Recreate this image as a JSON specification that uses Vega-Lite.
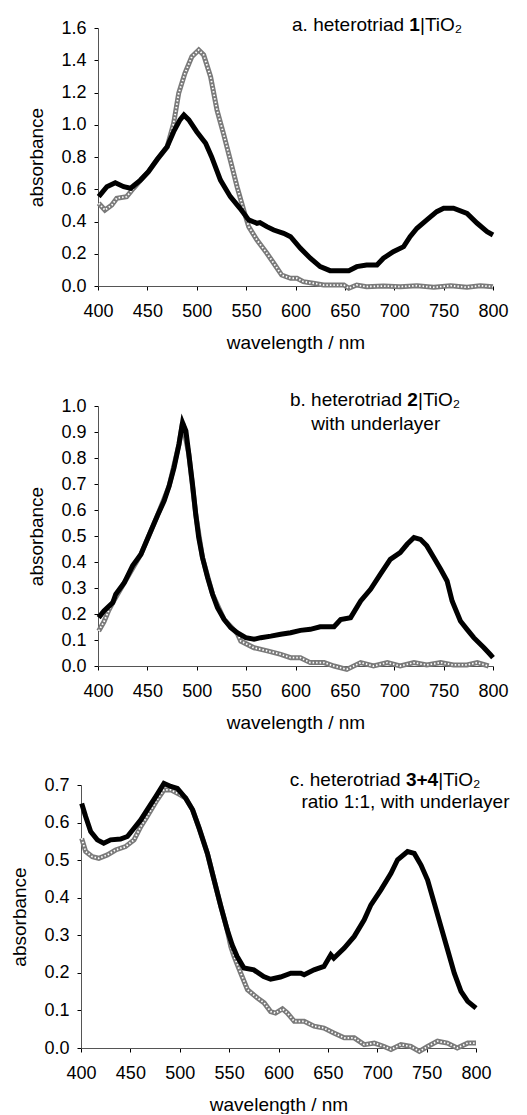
{
  "$schema": "https://vega.github.io/schema/vega-lite/v6.json",
  "padding": {"left": 10, "top": 16, "right": 0, "bottom": 0},
  "spacing": 39,
  "datasets": {
    "spectra": [
      {"p":"a","s":"black","w":400.7,"A":0.554},{"p":"a","s":"black","w":409,"A":0.616},{"p":"a","s":"black","w":417.5,"A":0.64},{"p":"a","s":"black","w":426,"A":0.616},{"p":"a","s":"black","w":433,"A":0.606},{"p":"a","s":"black","w":443,"A":0.657},{"p":"a","s":"black","w":451,"A":0.709},{"p":"a","s":"black","w":460,"A":0.786},{"p":"a","s":"black","w":470,"A":0.864},{"p":"a","s":"black","w":476.6,"A":0.957},{"p":"a","s":"black","w":483,"A":1.03},{"p":"a","s":"black","w":487,"A":1.06},{"p":"a","s":"black","w":492,"A":1.03},{"p":"a","s":"black","w":500,"A":0.957},{"p":"a","s":"black","w":509,"A":0.885},{"p":"a","s":"black","w":515,"A":0.802},{"p":"a","s":"black","w":524,"A":0.657},{"p":"a","s":"black","w":534,"A":0.554},{"p":"a","s":"black","w":544,"A":0.48},{"p":"a","s":"black","w":552.6,"A":0.41},{"p":"a","s":"black","w":561,"A":0.389},{"p":"a","s":"black","w":564,"A":0.393},{"p":"a","s":"black","w":571,"A":0.368},{"p":"a","s":"black","w":578,"A":0.347},{"p":"a","s":"black","w":588,"A":0.327},{"p":"a","s":"black","w":595,"A":0.306},{"p":"a","s":"black","w":605,"A":0.234},{"p":"a","s":"black","w":615,"A":0.172},{"p":"a","s":"black","w":625,"A":0.12},{"p":"a","s":"black","w":635,"A":0.095},{"p":"a","s":"black","w":645,"A":0.095},{"p":"a","s":"black","w":654,"A":0.095},{"p":"a","s":"black","w":662,"A":0.12},{"p":"a","s":"black","w":672,"A":0.13},{"p":"a","s":"black","w":682.5,"A":0.13},{"p":"a","s":"black","w":689,"A":0.172},{"p":"a","s":"black","w":699,"A":0.213},{"p":"a","s":"black","w":709.5,"A":0.244},{"p":"a","s":"black","w":716,"A":0.306},{"p":"a","s":"black","w":723,"A":0.358},{"p":"a","s":"black","w":733,"A":0.41},{"p":"a","s":"black","w":743,"A":0.461},{"p":"a","s":"black","w":750,"A":0.482},{"p":"a","s":"black","w":760,"A":0.482},{"p":"a","s":"black","w":773.7,"A":0.45},{"p":"a","s":"black","w":784,"A":0.389},{"p":"a","s":"black","w":794,"A":0.337},{"p":"a","s":"black","w":800,"A":0.316},
      {"p":"a","s":"grey","w":400.7,"A":0.513},{"p":"a","s":"grey","w":407,"A":0.471},{"p":"a","s":"grey","w":414,"A":0.502},{"p":"a","s":"grey","w":419,"A":0.544},{"p":"a","s":"grey","w":429,"A":0.554},{"p":"a","s":"grey","w":436,"A":0.606},{"p":"a","s":"grey","w":443,"A":0.655},{"p":"a","s":"grey","w":451,"A":0.707},{"p":"a","s":"grey","w":460,"A":0.784},{"p":"a","s":"grey","w":470,"A":0.862},{"p":"a","s":"grey","w":476.6,"A":1.009},{"p":"a","s":"grey","w":481.7,"A":1.195},{"p":"a","s":"grey","w":488,"A":1.319},{"p":"a","s":"grey","w":495,"A":1.422},{"p":"a","s":"grey","w":502,"A":1.464},{"p":"a","s":"grey","w":507,"A":1.433},{"p":"a","s":"grey","w":514,"A":1.298},{"p":"a","s":"grey","w":520.5,"A":1.091},{"p":"a","s":"grey","w":527,"A":0.947},{"p":"a","s":"grey","w":534,"A":0.781},{"p":"a","s":"grey","w":540.8,"A":0.616},{"p":"a","s":"grey","w":547.5,"A":0.471},{"p":"a","s":"grey","w":552.6,"A":0.368},{"p":"a","s":"grey","w":561,"A":0.285},{"p":"a","s":"grey","w":571,"A":0.203},{"p":"a","s":"grey","w":578,"A":0.141},{"p":"a","s":"grey","w":586,"A":0.068},{"p":"a","s":"grey","w":595,"A":0.048},{"p":"a","s":"grey","w":601.5,"A":0.048},{"p":"a","s":"grey","w":608,"A":0.027},{"p":"a","s":"grey","w":618,"A":0.017},{"p":"a","s":"grey","w":628.5,"A":0.006},{"p":"a","s":"grey","w":638.6,"A":0.006},{"p":"a","s":"grey","w":649,"A":0.006},{"p":"a","s":"grey","w":654,"A":-0.014},{"p":"a","s":"grey","w":662,"A":0.006},{"p":"a","s":"grey","w":672,"A":-0.004},{"p":"a","s":"grey","w":689,"A":0},{"p":"a","s":"grey","w":706,"A":-0.004},{"p":"a","s":"grey","w":723,"A":0.002},{"p":"a","s":"grey","w":740,"A":-0.008},{"p":"a","s":"grey","w":757,"A":0.002},{"p":"a","s":"grey","w":773.7,"A":-0.008},{"p":"a","s":"grey","w":787,"A":0.002},{"p":"a","s":"grey","w":800,"A":-0.004},
      {"p":"b","s":"black","w":400.7,"A":0.186},{"p":"b","s":"black","w":406,"A":0.212},{"p":"b","s":"black","w":415,"A":0.244},{"p":"b","s":"black","w":418,"A":0.276},{"p":"b","s":"black","w":426.6,"A":0.32},{"p":"b","s":"black","w":435,"A":0.385},{"p":"b","s":"black","w":443.5,"A":0.43},{"p":"b","s":"black","w":452,"A":0.506},{"p":"b","s":"black","w":460,"A":0.577},{"p":"b","s":"black","w":467,"A":0.635},{"p":"b","s":"black","w":472,"A":0.692},{"p":"b","s":"black","w":477,"A":0.763},{"p":"b","s":"black","w":482,"A":0.853},{"p":"b","s":"black","w":485.6,"A":0.936},{"p":"b","s":"black","w":489,"A":0.904},{"p":"b","s":"black","w":492,"A":0.814},{"p":"b","s":"black","w":495.7,"A":0.699},{"p":"b","s":"black","w":499,"A":0.583},{"p":"b","s":"black","w":502,"A":0.494},{"p":"b","s":"black","w":505.8,"A":0.417},{"p":"b","s":"black","w":511,"A":0.34},{"p":"b","s":"black","w":516,"A":0.276},{"p":"b","s":"black","w":521,"A":0.224},{"p":"b","s":"black","w":527.7,"A":0.179},{"p":"b","s":"black","w":534.5,"A":0.147},{"p":"b","s":"black","w":541,"A":0.128},{"p":"b","s":"black","w":549.6,"A":0.109},{"p":"b","s":"black","w":558,"A":0.103},{"p":"b","s":"black","w":564.8,"A":0.109},{"p":"b","s":"black","w":575,"A":0.115},{"p":"b","s":"black","w":585,"A":0.122},{"p":"b","s":"black","w":595,"A":0.128},{"p":"b","s":"black","w":605,"A":0.137},{"p":"b","s":"black","w":615,"A":0.141},{"p":"b","s":"black","w":625,"A":0.151},{"p":"b","s":"black","w":639,"A":0.151},{"p":"b","s":"black","w":645.7,"A":0.179},{"p":"b","s":"black","w":655.8,"A":0.186},{"p":"b","s":"black","w":666,"A":0.25},{"p":"b","s":"black","w":676,"A":0.295},{"p":"b","s":"black","w":686,"A":0.353},{"p":"b","s":"black","w":696,"A":0.41},{"p":"b","s":"black","w":706,"A":0.436},{"p":"b","s":"black","w":713,"A":0.468},{"p":"b","s":"black","w":720,"A":0.494},{"p":"b","s":"black","w":726.6,"A":0.487},{"p":"b","s":"black","w":733,"A":0.462},{"p":"b","s":"black","w":740,"A":0.417},{"p":"b","s":"black","w":747,"A":0.372},{"p":"b","s":"black","w":753.5,"A":0.327},{"p":"b","s":"black","w":758.6,"A":0.25},{"p":"b","s":"black","w":767,"A":0.173},{"p":"b","s":"black","w":773.7,"A":0.141},{"p":"b","s":"black","w":780.5,"A":0.109},{"p":"b","s":"black","w":790.6,"A":0.071},{"p":"b","s":"black","w":797,"A":0.045},{"p":"b","s":"black","w":800,"A":0.032},
      {"p":"b","s":"grey","w":400.7,"A":0.135},{"p":"b","s":"grey","w":406,"A":0.17},{"p":"b","s":"grey","w":411,"A":0.215},{"p":"b","s":"grey","w":415,"A":0.244},{"p":"b","s":"grey","w":426.6,"A":0.32},{"p":"b","s":"grey","w":443.5,"A":0.43},{"p":"b","s":"grey","w":460,"A":0.577},{"p":"b","s":"grey","w":472,"A":0.692},{"p":"b","s":"grey","w":482,"A":0.853},{"p":"b","s":"grey","w":485.6,"A":0.936},{"p":"b","s":"grey","w":492,"A":0.814},{"p":"b","s":"grey","w":499,"A":0.583},{"p":"b","s":"grey","w":505.8,"A":0.417},{"p":"b","s":"grey","w":516,"A":0.276},{"p":"b","s":"grey","w":527.7,"A":0.179},{"p":"b","s":"grey","w":541,"A":0.125},{"p":"b","s":"grey","w":544.6,"A":0.096},{"p":"b","s":"grey","w":558,"A":0.07},{"p":"b","s":"grey","w":571.5,"A":0.058},{"p":"b","s":"grey","w":585,"A":0.045},{"p":"b","s":"grey","w":595,"A":0.032},{"p":"b","s":"grey","w":605,"A":0.032},{"p":"b","s":"grey","w":615,"A":0.013},{"p":"b","s":"grey","w":629,"A":0.013},{"p":"b","s":"grey","w":639,"A":0},{"p":"b","s":"grey","w":652,"A":-0.013},{"p":"b","s":"grey","w":666,"A":0.013},{"p":"b","s":"grey","w":679,"A":0},{"p":"b","s":"grey","w":693,"A":0.013},{"p":"b","s":"grey","w":706,"A":0},{"p":"b","s":"grey","w":720,"A":0.013},{"p":"b","s":"grey","w":733,"A":0.004},{"p":"b","s":"grey","w":747,"A":0.013},{"p":"b","s":"grey","w":760,"A":0.004},{"p":"b","s":"grey","w":773.7,"A":0.004},{"p":"b","s":"grey","w":784,"A":0.013},{"p":"b","s":"grey","w":795.6,"A":0},
      {"p":"c","s":"black","w":400.7,"A":0.651},{"p":"c","s":"black","w":404.7,"A":0.616},{"p":"c","s":"black","w":409.8,"A":0.576},{"p":"c","s":"black","w":416.5,"A":0.554},{"p":"c","s":"black","w":423,"A":0.545},{"p":"c","s":"black","w":430,"A":0.554},{"p":"c","s":"black","w":440,"A":0.556},{"p":"c","s":"black","w":447,"A":0.563},{"p":"c","s":"black","w":453.7,"A":0.585},{"p":"c","s":"black","w":460.5,"A":0.607},{"p":"c","s":"black","w":467,"A":0.634},{"p":"c","s":"black","w":475.7,"A":0.669},{"p":"c","s":"black","w":484,"A":0.704},{"p":"c","s":"black","w":491,"A":0.696},{"p":"c","s":"black","w":497.6,"A":0.691},{"p":"c","s":"black","w":506,"A":0.665},{"p":"c","s":"black","w":513,"A":0.634},{"p":"c","s":"black","w":519.6,"A":0.585},{"p":"c","s":"black","w":528,"A":0.518},{"p":"c","s":"black","w":534.8,"A":0.447},{"p":"c","s":"black","w":541.6,"A":0.377},{"p":"c","s":"black","w":548,"A":0.315},{"p":"c","s":"black","w":553,"A":0.275},{"p":"c","s":"black","w":558,"A":0.244},{"p":"c","s":"black","w":565,"A":0.213},{"p":"c","s":"black","w":575,"A":0.208},{"p":"c","s":"black","w":585,"A":0.19},{"p":"c","s":"black","w":592,"A":0.183},{"p":"c","s":"black","w":602,"A":0.189},{"p":"c","s":"black","w":612.5,"A":0.199},{"p":"c","s":"black","w":622.6,"A":0.199},{"p":"c","s":"black","w":626,"A":0.195},{"p":"c","s":"black","w":636,"A":0.208},{"p":"c","s":"black","w":646,"A":0.217},{"p":"c","s":"black","w":653,"A":0.248},{"p":"c","s":"black","w":656,"A":0.239},{"p":"c","s":"black","w":666.6,"A":0.266},{"p":"c","s":"black","w":676.7,"A":0.297},{"p":"c","s":"black","w":686.8,"A":0.341},{"p":"c","s":"black","w":693.6,"A":0.381},{"p":"c","s":"black","w":703.7,"A":0.421},{"p":"c","s":"black","w":713.9,"A":0.465},{"p":"c","s":"black","w":720.6,"A":0.501},{"p":"c","s":"black","w":730.7,"A":0.523},{"p":"c","s":"black","w":737.5,"A":0.518},{"p":"c","s":"black","w":744.3,"A":0.487},{"p":"c","s":"black","w":751,"A":0.447},{"p":"c","s":"black","w":757.8,"A":0.385},{"p":"c","s":"black","w":764.5,"A":0.323},{"p":"c","s":"black","w":771.3,"A":0.261},{"p":"c","s":"black","w":778,"A":0.199},{"p":"c","s":"black","w":784.8,"A":0.151},{"p":"c","s":"black","w":791.6,"A":0.124},{"p":"c","s":"black","w":800,"A":0.106},
      {"p":"c","s":"grey","w":400.7,"A":0.558},{"p":"c","s":"grey","w":404.7,"A":0.523},{"p":"c","s":"grey","w":411.5,"A":0.509},{"p":"c","s":"grey","w":418,"A":0.505},{"p":"c","s":"grey","w":426.7,"A":0.514},{"p":"c","s":"grey","w":435,"A":0.527},{"p":"c","s":"grey","w":445,"A":0.536},{"p":"c","s":"grey","w":453.7,"A":0.554},{"p":"c","s":"grey","w":460.5,"A":0.589},{"p":"c","s":"grey","w":467,"A":0.616},{"p":"c","s":"grey","w":477,"A":0.66},{"p":"c","s":"grey","w":484,"A":0.687},{"p":"c","s":"grey","w":491,"A":0.687},{"p":"c","s":"grey","w":501,"A":0.673},{"p":"c","s":"grey","w":506,"A":0.665},{"p":"c","s":"grey","w":513,"A":0.634},{"p":"c","s":"grey","w":519.6,"A":0.585},{"p":"c","s":"grey","w":528,"A":0.518},{"p":"c","s":"grey","w":534.8,"A":0.447},{"p":"c","s":"grey","w":541.6,"A":0.377},{"p":"c","s":"grey","w":548,"A":0.315},{"p":"c","s":"grey","w":551.7,"A":0.27},{"p":"c","s":"grey","w":555,"A":0.244},{"p":"c","s":"grey","w":561.8,"A":0.199},{"p":"c","s":"grey","w":568.6,"A":0.155},{"p":"c","s":"grey","w":578.7,"A":0.133},{"p":"c","s":"grey","w":585.5,"A":0.12},{"p":"c","s":"grey","w":592,"A":0.097},{"p":"c","s":"grey","w":597,"A":0.093},{"p":"c","s":"grey","w":604,"A":0.104},{"p":"c","s":"grey","w":609,"A":0.093},{"p":"c","s":"grey","w":616,"A":0.071},{"p":"c","s":"grey","w":626,"A":0.071},{"p":"c","s":"grey","w":636,"A":0.058},{"p":"c","s":"grey","w":646,"A":0.053},{"p":"c","s":"grey","w":656,"A":0.04},{"p":"c","s":"grey","w":666.6,"A":0.027},{"p":"c","s":"grey","w":676.7,"A":0.027},{"p":"c","s":"grey","w":686.8,"A":0.009},{"p":"c","s":"grey","w":697,"A":0.013},{"p":"c","s":"grey","w":707,"A":0.004},{"p":"c","s":"grey","w":713.9,"A":-0.004},{"p":"c","s":"grey","w":724,"A":0.009},{"p":"c","s":"grey","w":734,"A":0.004},{"p":"c","s":"grey","w":742.6,"A":-0.009},{"p":"c","s":"grey","w":751,"A":0.004},{"p":"c","s":"grey","w":761,"A":0.018},{"p":"c","s":"grey","w":771,"A":0.013},{"p":"c","s":"grey","w":781,"A":0},{"p":"c","s":"grey","w":791.6,"A":0.013},{"p":"c","s":"grey","w":800,"A":0.013}
    ],
    "notes": [
      {"p":"a","w":709.9,"A":1.581,"pre":"a. heterotriad","bold":"1","post":"|TiO₂"},
      {"p":"b","w":707.8,"A":1.0,"pre":"b. heterotriad","bold":"2","post":"|TiO₂","w2":681.3,"A2":0.908,"line2":"with underlayer"},
      {"p":"c","w":723.7,"A":0.697,"pre":"c. heterotriad","bold":"3+4","post":"|TiO₂","w2":728.6,"A2":0.639,"line2":"ratio 1:1, with underlayer"}
    ]
  },
  "vconcat": [
    {
      "width": 412, "height": 258,
      "layer": [
        {"data": {"name": "spectra"}, "transform": [{"filter": "datum.p === 'a' && datum.s === 'grey'"}],
         "mark": {"type": "line", "color": "#7a7a7a", "strokeWidth": 5},
         "encoding": {
           "x": {"field": "w", "type": "quantitative", "scale": {"domain": [400, 800], "nice": false, "rangeMin": 17}, "axis": {"title": "wavelength / nm", "values": [400,450,500,550,600,650,700,750,800], "tickCount": 20, "labelOverlap": false}},
           "y": {"field": "A", "type": "quantitative", "scale": {"domain": [0, 1.6], "nice": false}, "axis": {"title": "absorbance", "offset": -17, "values": [0,0.2,0.4,0.6,0.8,1.0,1.2,1.4,1.6], "tickCount": 20, "format": ".1f", "labelOverlap": false}}
         }},
        {"data": {"name": "spectra"}, "transform": [{"filter": "datum.p === 'a' && datum.s === 'grey'"}],
         "mark": {"type": "line", "color": "white", "strokeWidth": 1.8, "strokeDash": [1.5, 2]},
         "encoding": {"x": {"field": "w", "type": "quantitative"}, "y": {"field": "A", "type": "quantitative"}}},
        {"data": {"name": "spectra"}, "transform": [{"filter": "datum.p === 'a' && datum.s === 'black'"}],
         "mark": {"type": "line", "color": "black", "strokeWidth": 5},
         "encoding": {"x": {"field": "w", "type": "quantitative"}, "y": {"field": "A", "type": "quantitative"}}},
        {"data": {"name": "notes"}, "transform": [{"filter": "datum.p === 'a'"}],
         "mark": {"type": "text", "align": "right", "baseline": "alphabetic", "fontSize": 19},
         "encoding": {"x": {"field": "w", "type": "quantitative"}, "y": {"field": "A", "type": "quantitative"}, "text": {"field": "pre"}}},
        {"data": {"name": "notes"}, "transform": [{"filter": "datum.p === 'a'"}],
         "mark": {"type": "text", "align": "left", "baseline": "alphabetic", "fontSize": 19, "fontWeight": "bold", "dx": 5.3},
         "encoding": {"x": {"field": "w", "type": "quantitative"}, "y": {"field": "A", "type": "quantitative"}, "text": {"field": "bold"}}},
        {"data": {"name": "notes"}, "transform": [{"filter": "datum.p === 'a'"}],
         "mark": {"type": "text", "align": "left", "baseline": "alphabetic", "fontSize": 19, "dx": 16},
         "encoding": {"x": {"field": "w", "type": "quantitative"}, "y": {"field": "A", "type": "quantitative"}, "text": {"field": "post"}}}
      ]
    },
    {
      "width": 412, "height": 260,
      "layer": [
        {"data": {"name": "spectra"}, "transform": [{"filter": "datum.p === 'b' && datum.s === 'grey'"}],
         "mark": {"type": "line", "color": "#7a7a7a", "strokeWidth": 5},
         "encoding": {
           "x": {"field": "w", "type": "quantitative", "scale": {"domain": [400, 800], "nice": false, "rangeMin": 17}, "axis": {"title": "wavelength / nm", "values": [400,450,500,550,600,650,700,750,800], "tickCount": 20, "labelOverlap": false}},
           "y": {"field": "A", "type": "quantitative", "scale": {"domain": [0, 1.0], "nice": false}, "axis": {"title": "absorbance", "offset": -17, "values": [0,0.1,0.2,0.3,0.4,0.5,0.6,0.7,0.8,0.9,1.0], "tickCount": 20, "format": ".1f", "labelOverlap": false}}
         }},
        {"data": {"name": "spectra"}, "transform": [{"filter": "datum.p === 'b' && datum.s === 'grey'"}],
         "mark": {"type": "line", "color": "white", "strokeWidth": 1.8, "strokeDash": [1.5, 2]},
         "encoding": {"x": {"field": "w", "type": "quantitative"}, "y": {"field": "A", "type": "quantitative"}}},
        {"data": {"name": "spectra"}, "transform": [{"filter": "datum.p === 'b' && datum.s === 'black'"}],
         "mark": {"type": "line", "color": "black", "strokeWidth": 5},
         "encoding": {"x": {"field": "w", "type": "quantitative"}, "y": {"field": "A", "type": "quantitative"}}},
        {"data": {"name": "notes"}, "transform": [{"filter": "datum.p === 'b'"}],
         "mark": {"type": "text", "align": "right", "baseline": "alphabetic", "fontSize": 19},
         "encoding": {"x": {"field": "w", "type": "quantitative"}, "y": {"field": "A", "type": "quantitative"}, "text": {"field": "pre"}}},
        {"data": {"name": "notes"}, "transform": [{"filter": "datum.p === 'b'"}],
         "mark": {"type": "text", "align": "left", "baseline": "alphabetic", "fontSize": 19, "fontWeight": "bold", "dx": 5.3},
         "encoding": {"x": {"field": "w", "type": "quantitative"}, "y": {"field": "A", "type": "quantitative"}, "text": {"field": "bold"}}},
        {"data": {"name": "notes"}, "transform": [{"filter": "datum.p === 'b'"}],
         "mark": {"type": "text", "align": "left", "baseline": "alphabetic", "fontSize": 19, "dx": 16},
         "encoding": {"x": {"field": "w", "type": "quantitative"}, "y": {"field": "A", "type": "quantitative"}, "text": {"field": "post"}}},
        {"data": {"name": "notes"}, "transform": [{"filter": "datum.p === 'b'"}],
         "mark": {"type": "text", "align": "center", "baseline": "alphabetic", "fontSize": 19},
         "encoding": {"x": {"field": "w2", "type": "quantitative"}, "y": {"field": "A2", "type": "quantitative"}, "text": {"field": "line2"}}}
      ]
    },
    {
      "width": 395, "height": 263,
      "layer": [
        {"data": {"name": "spectra"}, "transform": [{"filter": "datum.p === 'c' && datum.s === 'grey'"}],
         "mark": {"type": "line", "color": "#7a7a7a", "strokeWidth": 5},
         "encoding": {
           "x": {"field": "w", "type": "quantitative", "scale": {"domain": [400, 800], "nice": false}, "axis": {"title": "wavelength / nm", "values": [400,450,500,550,600,650,700,750,800], "tickCount": 20, "labelOverlap": false}},
           "y": {"field": "A", "type": "quantitative", "scale": {"domain": [0, 0.7], "nice": false}, "axis": {"title": "absorbance", "values": [0,0.1,0.2,0.3,0.4,0.5,0.6,0.7], "tickCount": 20, "format": ".1f", "labelOverlap": false}}
         }},
        {"data": {"name": "spectra"}, "transform": [{"filter": "datum.p === 'c' && datum.s === 'grey'"}],
         "mark": {"type": "line", "color": "white", "strokeWidth": 1.8, "strokeDash": [1.5, 2]},
         "encoding": {"x": {"field": "w", "type": "quantitative"}, "y": {"field": "A", "type": "quantitative"}}},
        {"data": {"name": "spectra"}, "transform": [{"filter": "datum.p === 'c' && datum.s === 'black'"}],
         "mark": {"type": "line", "color": "black", "strokeWidth": 5},
         "encoding": {"x": {"field": "w", "type": "quantitative"}, "y": {"field": "A", "type": "quantitative"}}},
        {"data": {"name": "notes"}, "transform": [{"filter": "datum.p === 'c'"}],
         "mark": {"type": "text", "align": "right", "baseline": "alphabetic", "fontSize": 19},
         "encoding": {"x": {"field": "w", "type": "quantitative"}, "y": {"field": "A", "type": "quantitative"}, "text": {"field": "pre"}}},
        {"data": {"name": "notes"}, "transform": [{"filter": "datum.p === 'c'"}],
         "mark": {"type": "text", "align": "left", "baseline": "alphabetic", "fontSize": 19, "fontWeight": "bold", "dx": 5.3},
         "encoding": {"x": {"field": "w", "type": "quantitative"}, "y": {"field": "A", "type": "quantitative"}, "text": {"field": "bold"}}},
        {"data": {"name": "notes"}, "transform": [{"filter": "datum.p === 'c'"}],
         "mark": {"type": "text", "align": "left", "baseline": "alphabetic", "fontSize": 19, "dx": 37.5},
         "encoding": {"x": {"field": "w", "type": "quantitative"}, "y": {"field": "A", "type": "quantitative"}, "text": {"field": "post"}}},
        {"data": {"name": "notes"}, "transform": [{"filter": "datum.p === 'c'"}],
         "mark": {"type": "text", "align": "center", "baseline": "alphabetic", "fontSize": 19},
         "encoding": {"x": {"field": "w2", "type": "quantitative"}, "y": {"field": "A2", "type": "quantitative"}, "text": {"field": "line2"}}}
      ]
    }
  ],
  "config": {
    "font": "Liberation Sans",
    "view": {"stroke": null},
    "axis": {"grid": false, "labelFontSize": 18, "titleFontSize": 19, "titleFontWeight": "normal", "labelColor": "black", "titleColor": "black", "tickColor": "black", "domainColor": "#555", "tickSize": 4, "labelFlush": false, "labelOverlap": false},
    "axisX": {"labelPadding": 12, "titlePadding": 13},
    "axisY": {"labelPadding": 8, "titlePadding": 14}
  }
}
